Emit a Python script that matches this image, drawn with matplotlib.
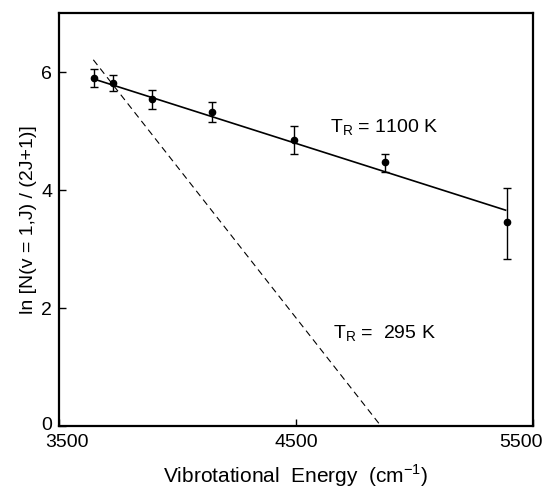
import matplotlib
matplotlib.use("Agg")
import matplotlib.pyplot as plt
import matplotlib.transforms as mtransforms

plt.rcParams['font.family'] = ['Liberation Sans', 'DejaVu Sans']

# data points
energy = [3648, 3726, 3894, 4144, 4493, 4878, 5392]
ln_pop = [5.90, 5.82, 5.54, 5.33, 4.85, 4.47, 3.46]
err_lo = [0.16, 0.14, 0.17, 0.18, 0.24, 0.17, 0.62]
err_hi = [0.16, 0.13, 0.15, 0.16, 0.23, 0.15, 0.57]

# fitted lines (end points)
fit_1100_x = [3650, 5385]
fit_1100_y = [5.88, 3.66]
fit_295_x = [3645, 4859]
fit_295_y = [6.21, 0.0]

fig = plt.figure(figsize=(5.51, 4.88), dpi=100)
ax = fig.add_axes([0.107, 0.127, 0.86, 0.846])

ax.plot(fit_1100_x, fit_1100_y, color='black', lw=1.2)
ax.plot(fit_295_x, fit_295_y, color='black', lw=0.8, ls=(0, (6, 4)))
ax.errorbar(energy, ln_pop, yerr=[err_lo, err_hi], fmt='o', color='black',
            ms=4.5, elinewidth=1.0, capsize=3, capthick=1.0)

ax.text(4643, 5.05, 'T$_\\mathregular{R}$ = 1100 K', fontsize=14, va='center')
ax.text(4656, 1.56, 'T$_\\mathregular{R}$ =  295 K', fontsize=14, va='center')

ax.set_xlim(3500, 5500)
ax.set_ylim(0, 7)
ax.set_xticks([3500, 4500, 5500])
ax.set_yticks([0, 2, 4, 6])
ax.tick_params(direction='in', length=5, labelsize=14, width=1.0)
ax.tick_params(axis='x', pad=6)
ax.tick_params(axis='y', pad=5)
for s in ax.spines.values():
    s.set_linewidth(1.6)

# nudge the end labels inwards like the original
def nudge(lab, dx, dy):
    lab.set_transform(lab.get_transform() +
                      mtransforms.ScaledTranslation(dx / 100, dy / 100, fig.dpi_scale_trans))

for lab, dx in zip(ax.get_xticklabels(), [8, 0, -12]):
    nudge(lab, dx, 0)
nudge(ax.get_yticklabels()[0], 0, 3)

ax.set_xlabel('Vibrotational  Energy  (cm$^{\\mathregular{-1}}$)', fontsize=15, labelpad=8)
ax.set_ylabel('ln [N(v = 1,J) / (2J+1)]', fontsize=14, labelpad=3)

fig.savefig('out.png', dpi=100)
